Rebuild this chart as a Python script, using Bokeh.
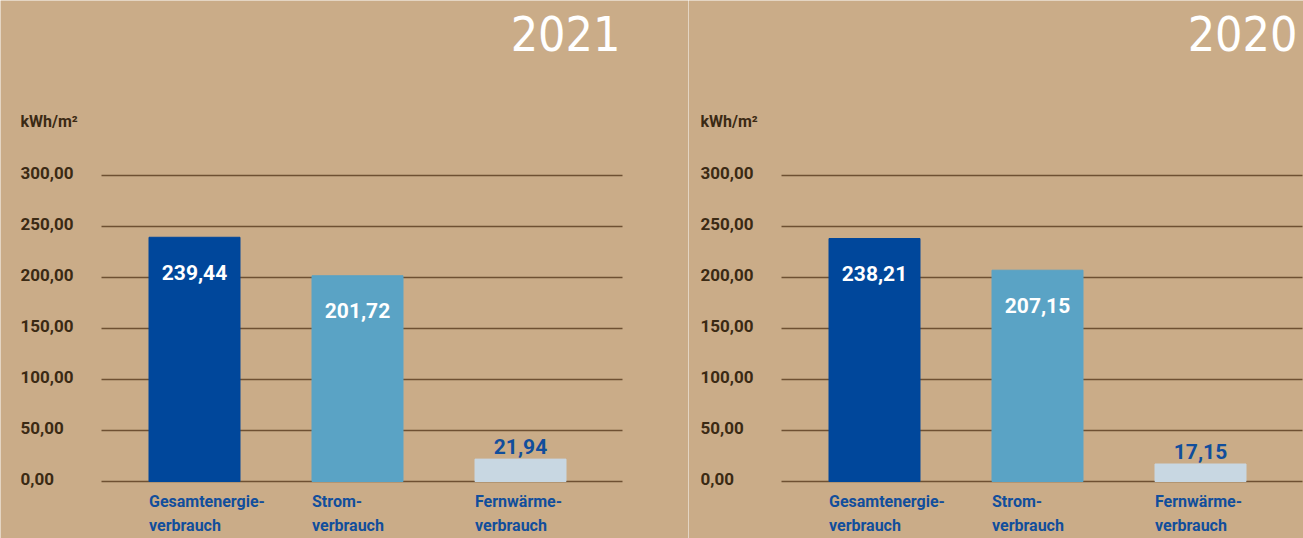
from bokeh.plotting import figure
from bokeh.models import Range1d, ColumnDataSource
from bokeh.layouts import row
from bokeh.embed import file_html
from bokeh.resources import INLINE
from bokeh.core.properties import value

# ---- data ----
years = ["2021", "2020"]
categories = ["Gesamtenergie-\nverbrauch", "Strom-\nverbrauch", "Fernwärme-\nverbrauch"]
values_2021 = [239.44, 201.72, 21.94]
values_2020 = [238.21, 207.15, 17.15]
tick_values = [0, 50, 100, 150, 200, 250, 300]
tick_labels = ["0,00", "50,00", "100,00", "150,00", "200,00", "250,00", "300,00"]
unit_label = "kWh/m²"

# ---- styles / layout ----
BG = "#caac88"
bar_colors = ["#00479b", "#5aa3c5", "#c8d7e2"]
BLUE_TEXT = "#114e9c"
TICK_TEXT = "#3b2a14"
GRID = "#6e5032"
FONT = value("Roboto")
H = 538
PX_PER_UNIT = 1.02          # vertical pixels per kWh/m²
ZERO_Y = 481                # pixel row of the zero line
STEP = 163                  # pixels between bar centres
FIRST = 194                 # pixel column of first bar centre (left panel)
BAR_W = 91 / STEP
GRID_X0 = (101 - FIRST) / STEP
GRID_X1 = (622 - FIRST) / STEP
Y0 = -(H - ZERO_Y) / PX_PER_UNIT
Y1 = ZERO_Y / PX_PER_UNIT


def fmt(v):
    return f"{v:.2f}".replace(".", ",")


def make_panel(year, vals, width, shift, year_dx):
    first = FIRST + shift
    p = figure(width=width, height=H,
               x_range=Range1d(-first / STEP, (width - first) / STEP),
               y_range=Range1d(Y0, Y1),
               x_axis_location=None, y_axis_location=None,
               toolbar_location=None, output_backend="svg",
               min_border_left=0, min_border_right=0,
               min_border_top=0, min_border_bottom=0)
    p.background_fill_color = BG
    p.border_fill_color = BG
    p.outline_line_color = None
    p.xgrid.visible = False
    p.ygrid.visible = False

    # grid lines
    p.segment(x0=[GRID_X0] * len(tick_values), x1=[GRID_X1] * len(tick_values),
              y0=tick_values, y1=tick_values, line_color=GRID, line_width=1.3)

    xs = list(range(len(categories)))
    inside = [v > 50 for v in vals]
    src = ColumnDataSource(dict(
        x=xs, top=vals, color=bar_colors,
        left=[x - BAR_W / 2 for x in xs],
        lbl=[fmt(v) for v in vals],
        lcol=["white" if i else BLUE_TEXT for i in inside],
        loff=[35 if i else -13 for i in inside],
        cat=categories,
    ))
    p.vbar(x="x", top="top", bottom=0, width=BAR_W, color="color", source=src)
    p.text(x="x", y="top", text="lbl", text_color="lcol", y_offset="loff",
           text_align="center", text_baseline="middle", text_font=FONT,
           text_font_style="bold", text_font_size="21px", source=src)
    p.text(x="left", y=0, text="cat", text_color=BLUE_TEXT, y_offset=10,
           text_align="left", text_baseline="top", text_line_height=1.3,
           text_font=FONT, text_font_style="bold", text_font_size="16px", source=src)

    # tick labels & unit
    p.text(x=[GRID_X0] * len(tick_values), y=tick_values, text=tick_labels,
           x_offset=-81, y_offset=-3, text_align="left", text_baseline="middle",
           text_color=TICK_TEXT, text_font=FONT, text_font_style="bold",
           text_font_size="17px")
    p.text(x=[GRID_X0], y=[tick_values[-1]], text=[unit_label],
           x_offset=-81, y_offset=-54, text_align="left", text_baseline="middle",
           text_color=TICK_TEXT, text_font=FONT, text_font_style="bold",
           text_font_size="16px")

    # year heading
    p.text(x=[GRID_X1], y=[Y1], text=[year], x_offset=year_dx, y_offset=15,
           text_align="right", text_baseline="top", text_color="white",
           text_font=value("DejaVu Sans Condensed"),
           text_font_size="48px")
    return p


p1 = make_panel(years[0], values_2021, 688, 0, -2)
p2 = make_panel(years[1], values_2020, 615, -8, -5)
layout = row(p1, p2)

open("out.html", "w").write(file_html(layout, INLINE))
